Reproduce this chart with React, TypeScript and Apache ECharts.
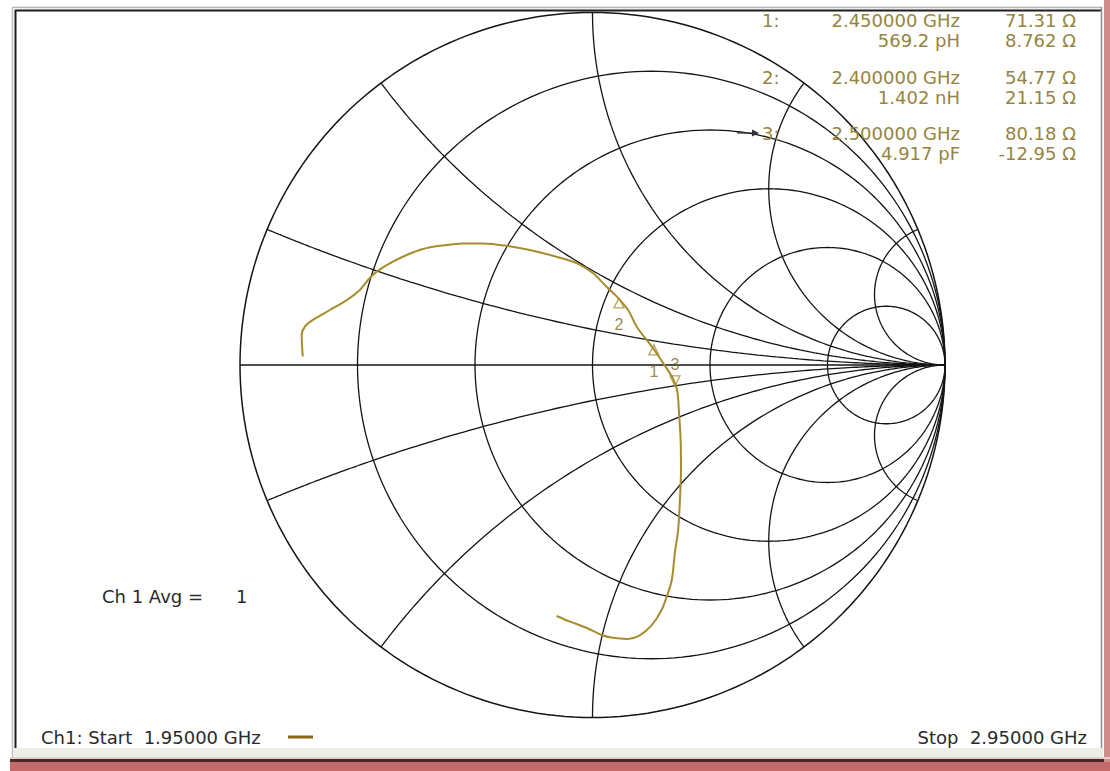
import React, { useEffect, useRef } from "react";
import * as echarts from "echarts";

// Smith chart grid values (normalised resistance / reactance)
const resistanceValues = [0.2, 0.5, 1, 2, 5];
const reactanceValues = [0.2, 0.5, 1, 2, 5, -0.2, -0.5, -1, -2, -5];

// Measured trace, reflection coefficient (real / imaginary), 1.95 -> 2.95 GHz
const traceRe = [
  -0.822, -0.825, -0.816, -0.793, -0.745, -0.697, -0.66, -0.637, -0.612, -0.574,
  -0.527, -0.481, -0.433, -0.367, -0.311, -0.243, -0.169, -0.102, -0.045, 0.001,
  0.035, 0.069, 0.101, 0.126, 0.169, 0.2, 0.226, 0.24, 0.245, 0.25,
  0.251, 0.248, 0.243, 0.234, 0.225, 0.214, 0.196, 0.168, 0.135, 0.097,
  0.058, 0.026, -0.016, -0.064, -0.102,
];
const traceIm = [
  0.024, 0.085, 0.109, 0.128, 0.156, 0.184, 0.213, 0.241, 0.265, 0.289,
  0.312, 0.329, 0.338, 0.345, 0.345, 0.338, 0.324, 0.307, 0.289, 0.261,
  0.227, 0.194, 0.156, 0.108, 0.051, 0.006, -0.034, -0.071, -0.128, -0.213,
  -0.298, -0.383, -0.468, -0.53, -0.61, -0.647, -0.695, -0.738, -0.766, -0.777,
  -0.774, -0.766, -0.746, -0.728, -0.712,
];

// Markers
const markerIds = ["1", "2", "3"];
const markerRe = [0.174, 0.075, 0.234];
const markerIm = [0.043, 0.176, -0.045];
const markerFreq = ["2.450000 GHz", "2.400000 GHz", "2.500000 GHz"];
const markerElem = ["569.2 pH", "1.402 nH", "4.917 pF"];
const markerRes = ["71.31 Ω", "54.77 Ω", "80.18 Ω"];
const markerReact = ["8.762 Ω", "21.15 Ω", "-12.95 Ω"];

const startLabel = "Ch1: Start  1.95000 GHz";
const stopLabel = "Stop  2.95000 GHz";
const avgLabel = "Ch 1 Avg =";
const avgValue = "1";

const GRID_COLOR = "#141414";
const TRACE_COLOR = "#a68c2e";
const MARKER_TEXT = "#968440";
const FONT = "DejaVu Sans";

function circlePoints(cx: number, rad: number) {
  const pts: number[][] = [];
  for (let a = 0; a <= 360; a += 1.5) {
    const t = (a * Math.PI) / 180;
    pts.push([cx + rad * Math.cos(t), rad * Math.sin(t)]);
  }
  return pts;
}

function reactancePoints(x: number) {
  const pts: number[][] = [];
  const ts = [0];
  for (let k = -3; k <= 4.5; k += 0.02) ts.push(Math.pow(10, k));
  for (const t of ts) {
    const d = (t + 1) * (t + 1) + x * x;
    pts.push([(t * t - 1 + x * x) / d, (2 * x) / d]);
  }
  pts.push([1, 0]);
  return pts;
}

export default function App() {
  const ref = useRef<HTMLDivElement>(null);

  useEffect(() => {
    if (!ref.current) return;
    const chart = echarts.init(ref.current, undefined, { renderer: "svg" });

    const gridLine = (data: number[][], w = 1.3) => ({
      type: "line",
      data,
      showSymbol: false,
      silent: true,
      clip: false,
      smooth: false,
      lineStyle: { color: GRID_COLOR, width: w },
      z: 1,
    });

    const series: any[] = [];
    series.push(gridLine(circlePoints(0, 1), 1.5));
    resistanceValues.forEach((r) => series.push(gridLine(circlePoints(r / (1 + r), 1 / (1 + r)))));
    reactanceValues.forEach((x) => series.push(gridLine(reactancePoints(x))));
    series.push(gridLine([[-1, 0], [1, 0]]));

    series.push({
      type: "line",
      data: traceRe.map((v, i) => [v, traceIm[i]]),
      showSymbol: false,
      smooth: 0.3,
      clip: false,
      lineStyle: { color: TRACE_COLOR, width: 2 },
      z: 3,
    });

    series.push({
      type: "scatter",
      data: markerIds.map((id, i) => ({
        value: [markerRe[i], markerIm[i]],
        name: id,
        symbolRotate: i === 2 ? 180 : 0,
        label: {
          position: i === 2 ? "top" : "bottom",
          distance: i === 2 ? 3 : 8,
        },
      })),
      symbol: "triangle",
      symbolSize: [10, 10],
      itemStyle: { color: "rgba(255,255,255,0)", borderColor: TRACE_COLOR, borderWidth: 1.3 },
      label: {
        show: true,
        formatter: (p: any) => p.name,
        color: "#7d6a22",
        fontFamily: "Liberation Sans",
        fontSize: 16,
      },
      clip: false,
      z: 4,
    });

    const rowsY = [20, 40, 77, 97, 133, 153];
    const tableSize = 18;
    const graphics: any[] = [];
    const txt = (text: string, x: number, y: number, align: string, color: string, size: number) => ({
      type: "text",
      x,
      y,
      style: { text, fill: color, font: `${size}px "${FONT}"`, textAlign: align, textVerticalAlign: "middle" },
      z: 10,
    });

    markerIds.forEach((id, i) => {
      const y1 = rowsY[i * 2];
      const y2 = rowsY[i * 2 + 1];
      graphics.push(txt(id + ":", 762, y1, "left", MARKER_TEXT, tableSize));
      graphics.push(txt(markerFreq[i], 960, y1, "right", MARKER_TEXT, tableSize));
      graphics.push(txt(markerRes[i], 1076, y1, "right", MARKER_TEXT, tableSize));
      graphics.push(txt(markerElem[i], 960, y2, "right", MARKER_TEXT, tableSize));
      graphics.push(txt(markerReact[i], 1076, y2, "right", MARKER_TEXT, tableSize));
    });
    // active marker pointer
    graphics.push({ type: "line", shape: { x1: 737, y1: 133, x2: 757, y2: 133 }, style: { stroke: "#333", lineWidth: 1.2 }, z: 10 });
    graphics.push({ type: "polygon", shape: { points: [[759, 133], [752, 129.5], [752, 136.5]] }, style: { fill: "#333" }, z: 10 });

    graphics.push(txt(avgLabel, 102, 596, "left", "#2a2a2a", 18));
    graphics.push(txt(avgValue, 236, 596, "left", "#2a2a2a", 18));
    graphics.push(txt(startLabel, 41, 737, "left", "#2a2a2a", 18));
    graphics.push(txt(stopLabel, 1087, 737, "right", "#2a2a2a", 18));
    graphics.push({ type: "line", shape: { x1: 288, y1: 737, x2: 313, y2: 737 }, style: { stroke: "#8a6514", lineWidth: 3 }, z: 10 });

    // window frame
    graphics.push({ type: "line", shape: { x1: 12, y1: 7.5, x2: 1102, y2: 7.5 }, style: { stroke: "#b4b4b4", lineWidth: 1.5 }, z: 0 });
    graphics.push({ type: "line", shape: { x1: 15, y1: 10.5, x2: 1101, y2: 10.5 }, style: { stroke: "#1e1e1e", lineWidth: 2 }, z: 0 });
    graphics.push({ type: "line", shape: { x1: 12.5, y1: 7, x2: 12.5, y2: 757 }, style: { stroke: "#c0c0c0", lineWidth: 1.5 }, z: 0 });
    graphics.push({ type: "line", shape: { x1: 15.5, y1: 10, x2: 15.5, y2: 748 }, style: { stroke: "#1e1e1e", lineWidth: 2 }, z: 0 });
    graphics.push({ type: "line", shape: { x1: 1101.5, y1: 7, x2: 1101.5, y2: 760 }, style: { stroke: "#8c8c8c", lineWidth: 1.5 }, z: 0 });
    graphics.push({ type: "rect", shape: { x: 1104, y: 0, width: 6, height: 771 }, style: { fill: "#cf8a8a" }, z: 0 });
    graphics.push({ type: "rect", shape: { x: 13, y: 748, width: 1089, height: 9 }, style: { fill: "#ecefe3" }, z: 0 });
    graphics.push({ type: "rect", shape: { x: 10, y: 757, width: 1100, height: 2 }, style: { fill: "#e6cccc" }, z: 0 });
    graphics.push({ type: "rect", shape: { x: 10, y: 759, width: 1094, height: 3 }, style: { fill: "#4a2626" }, z: 0 });
    graphics.push({ type: "rect", shape: { x: 10, y: 762, width: 1100, height: 9 }, style: { fill: "#c46a6a" }, z: 0 });

    chart.setOption({
      animation: false,
      backgroundColor: "#ffffff",
      grid: { left: 240, top: 12.5, width: 705, height: 705 },
      xAxis: { type: "value", min: -1, max: 1, show: false },
      yAxis: { type: "value", min: -1, max: 1, show: false },
      series,
      graphic: graphics,
    });

    return () => chart.dispose();
  }, []);

  return (
    <div
      ref={ref}
      style={{ position: "fixed", left: 0, top: 0, width: 1110, height: 771, background: "#fff" }}
    />
  );
}
